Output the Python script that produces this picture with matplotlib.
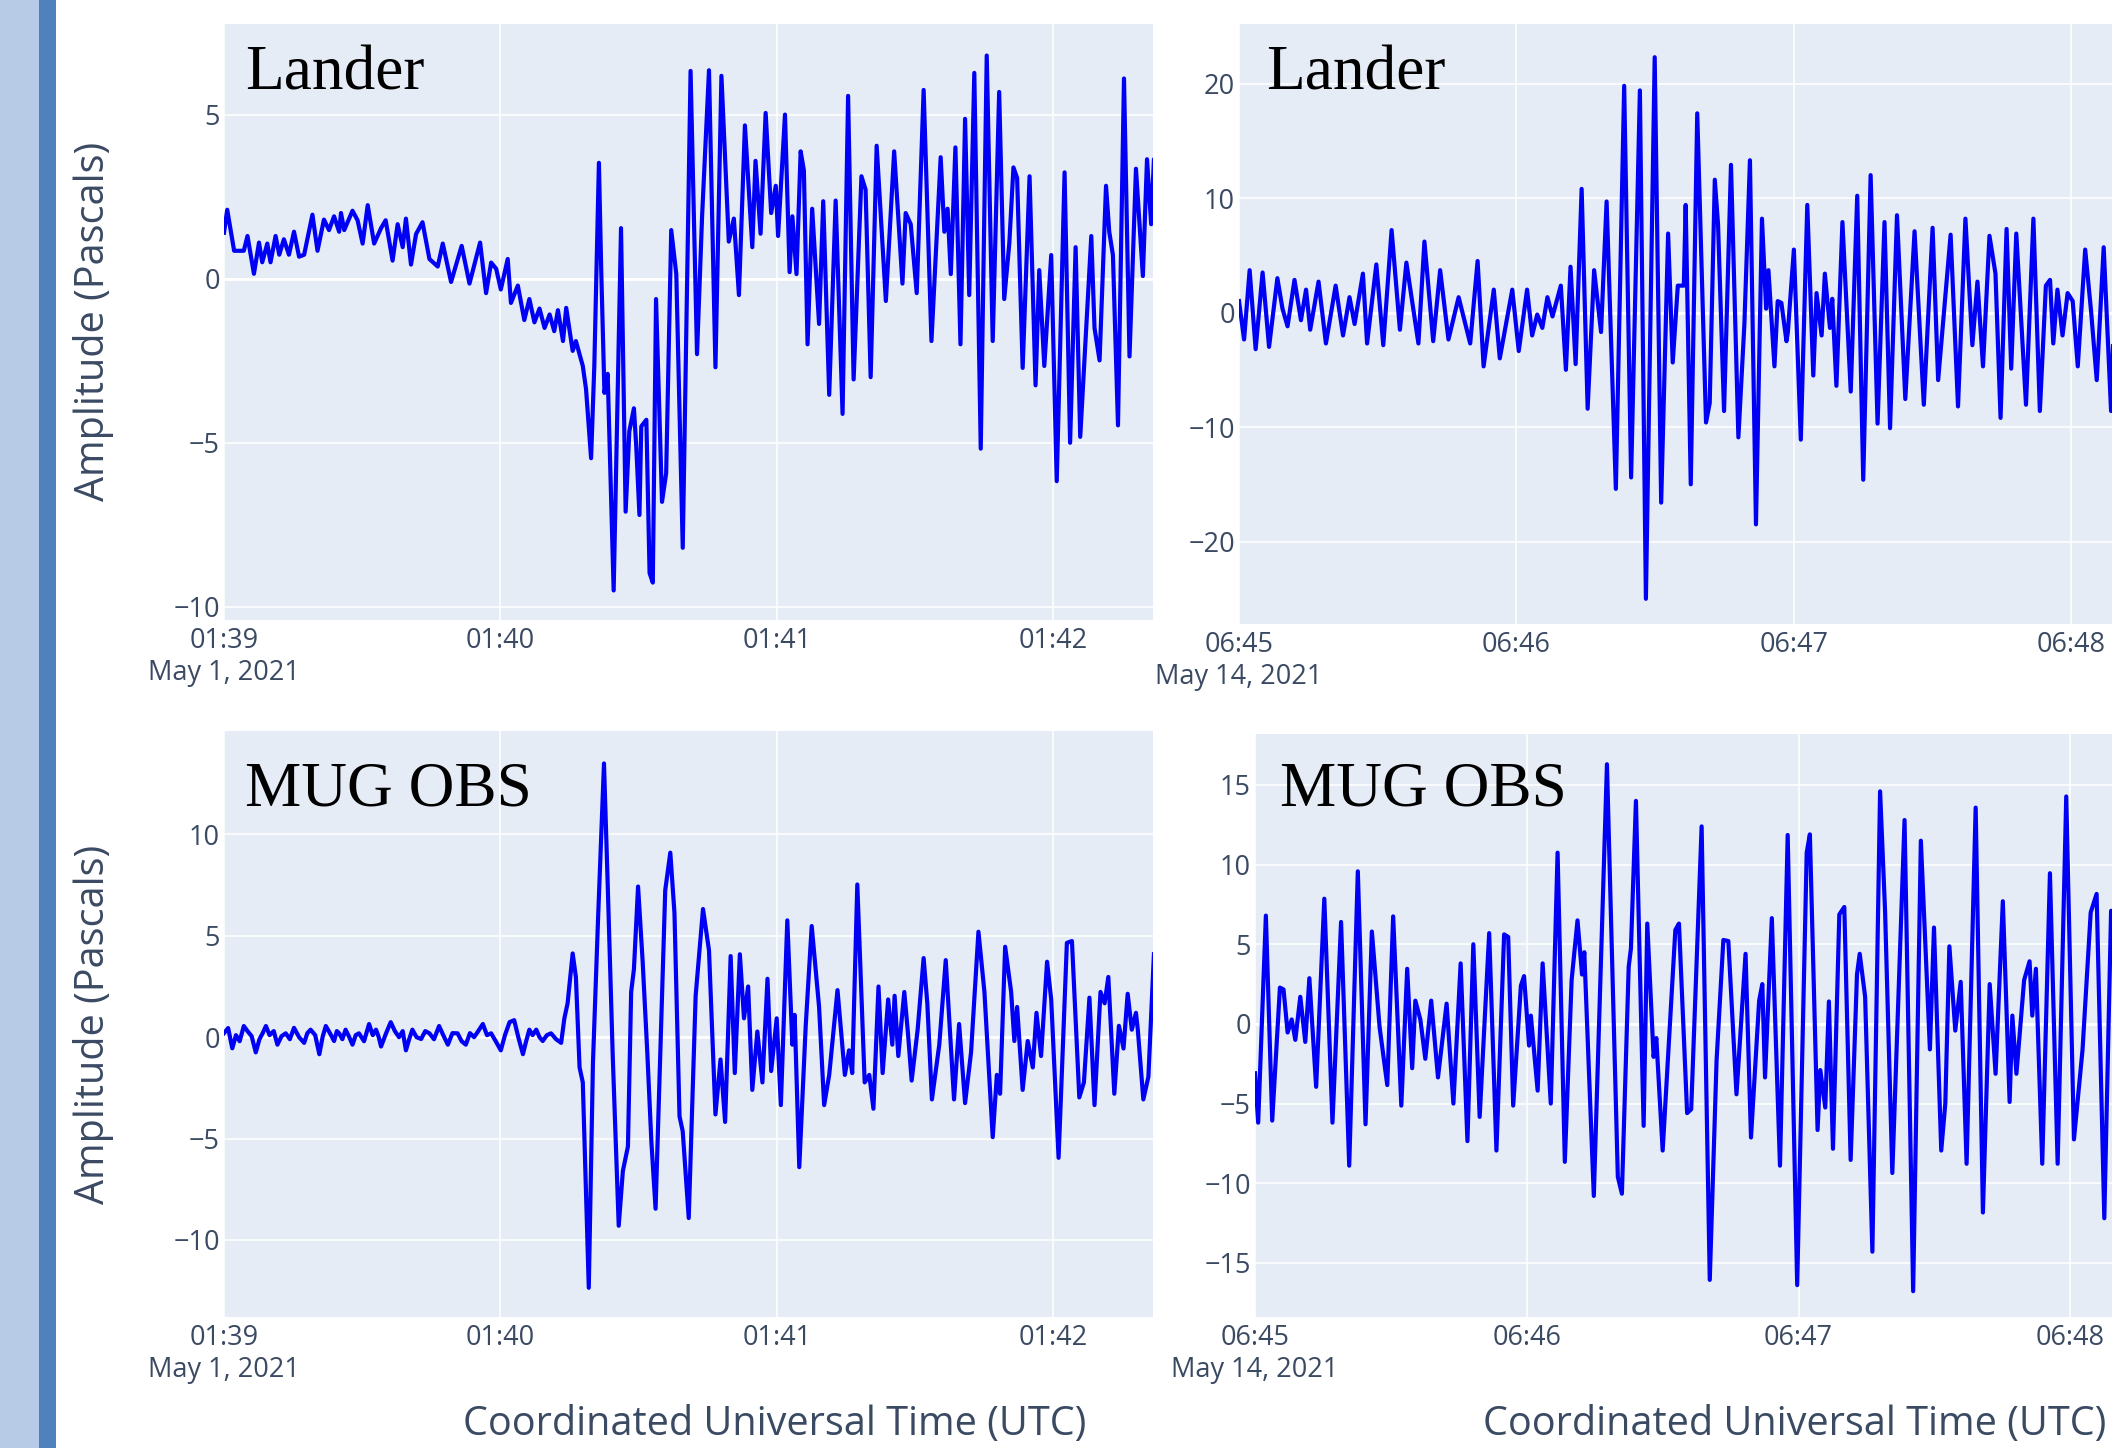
import numpy as np
import matplotlib
matplotlib.use("Agg")
from matplotlib import pyplot as plt
from matplotlib.patches import Rectangle

# ---- data (seconds from panel start, Pascals) ----

# Lander, May 1 2021, from 01:39:00
lander1_t = [0.0, 0.7, 2.2, 4.3, 5.1, 6.5, 7.6, 8.3, 9.4, 10.1, 11.2, 12.0, 13.0, 14.1, 15.2, 16.3,
             17.4, 19.2, 20.3, 21.7, 22.8, 23.9, 25.0, 25.4, 26.1, 27.9, 29.0, 30.1, 31.2, 32.6, 34.1,
             35.1, 36.6, 37.7, 38.8, 39.5, 40.6, 41.7, 43.1, 44.6, 46.4, 47.5, 49.3, 51.6, 53.3, 55.6,
             56.9, 58.0, 59.1, 60.1, 61.6, 62.3, 63.8, 65.2, 66.3, 67.4, 68.5, 69.6, 70.7, 71.7, 72.5,
             73.6, 74.3, 75.7, 76.4, 77.9, 78.6, 79.7, 80.4, 81.4, 81.9, 82.6, 83.3, 84.6, 86.2, 87.2,
             88.0, 89.0, 89.5, 90.2, 90.6, 91.7, 92.4, 93.1, 93.8, 95.1, 96.0, 97.1, 98.2, 99.6, 101.3,
             102.7, 103.8, 105.3, 106.7, 108.0, 109.6, 110.7, 111.8, 113.1, 114.7, 115.4, 116.5, 117.6,
             118.8, 119.8, 120.3, 121.8, 122.8, 123.4, 124.3, 125.2, 125.9, 126.7, 127.7, 129.2, 130.1,
             131.4, 132.8, 134.3, 135.5, 136.7, 138.4, 139.3, 140.4, 141.7, 143.7, 145.5, 147.3, 148.0,
             149.1, 150.4, 151.9, 153.6, 155.6, 156.4, 157.1, 157.8, 158.8, 159.9, 160.9, 161.8, 162.9,
             164.3, 165.6, 166.9, 168.3, 169.4, 170.5, 171.4, 172.2, 173.4, 174.9, 176.2, 177.0, 178.1,
             179.6, 180.8, 182.5, 183.7, 184.9, 185.9, 188.3, 189.0, 190.1, 191.5, 192.2, 193.0, 194.1,
             195.4, 196.6, 198.0, 199.5, 200.4, 201.3, 201.9, 202.4]
lander1_v = [1.4, 2.1, 0.85, 0.85, 1.3, 0.15, 1.1, 0.5, 1.07, 0.5, 1.3, 0.73, 1.2, 0.73, 1.43, 0.67,
             0.73, 1.95, 0.85, 1.8, 1.48, 1.9, 1.43, 2.0, 1.48, 2.07, 1.78, 1.07, 2.24, 1.07, 1.54,
             1.78, 0.55, 1.66, 0.96, 1.83, 0.43, 1.36, 1.72, 0.6, 0.37, 1.07, -0.1, 1.0, -0.15, 1.1,
             -0.44, 0.49, 0.3, -0.33, 0.6, -0.74, -0.21, -1.26, -0.62, -1.33, -0.91, -1.5, -1.09, -1.6, -0.96,
             -1.9, -0.89, -2.2, -1.9, -2.66, -3.36, -5.47, -2.66, 3.53, 0.26, -3.48, -2.9, -9.5, 1.54, -7.1,
             -4.65, -3.95, -5.1, -7.2, -4.5, -4.3, -8.97, -9.26, -0.62, -6.8, -5.93, 1.48, 0.14, -8.2, 6.33,
             -2.3, 1.9, 6.35, -2.7, 6.18, 1.13, 1.83, -0.5, 4.67, 0.96, 3.59, 1.37, 5.05,
             2.0, 2.83, 1.3, 5.0, 0.2, 1.9, 0.14, 3.88, 3.3, -2.0, 2.13, -1.38, 2.36,
             -3.54, 2.38, -4.12, 5.57, -3.07, 3.12, 2.71, -3.0, 4.05, -0.68, 3.88, -0.15, 2.0,
             1.66, -0.44, 5.75, -1.9, 3.7, 1.43, 2.13, 0.14, 4.0, -2.0, 4.87, -0.5, 6.27,
             -5.18, 6.8, -1.9, 5.69, -0.62, 1.07, 3.39, 3.07, -2.72, 3.12, -3.25, 0.26, -2.66,
             0.72, -6.17, 3.24, -5.0, 0.96, -4.82, 1.3, -1.5, -2.49, 2.83, 1.43, 0.72, -4.47,
             6.1, -2.37, 3.35, 0.08, 3.64, 1.66, 3.64, 2.0]

# Lander, May 14 2021, from 06:45:00
lander2_t = [0.0, 1.1, 2.3, 3.6, 5.1, 6.5, 8.3, 9.4, 10.5, 12.0, 13.4, 14.5, 15.4, 17.2, 18.8, 20.9,
             22.5, 23.9, 25.0, 26.8, 27.7, 29.7, 31.2, 33.0, 34.8, 36.2, 38.8, 40.1, 42.0, 43.5, 45.3,
             47.5, 50.0, 51.6, 52.9, 55.1, 56.4, 59.1, 60.5, 62.3, 63.4, 64.5, 65.6, 66.7, 67.8, 69.6,
             70.7, 71.7, 72.8, 74.1, 75.4, 76.8, 78.3, 79.5, 81.5, 83.3, 84.8, 86.7, 88.0, 89.9, 91.3,
             92.8, 93.8, 94.9, 96.2, 96.6, 97.7, 99.1, 101.0, 101.8, 102.9, 103.6, 104.9, 106.4, 108.0,
             109.3, 110.5, 111.8, 113.1, 114.0, 114.5, 115.8, 116.5, 117.3, 118.4, 118.7, 120.0, 121.5,
             122.9, 124.2, 124.9, 126.0, 126.7, 127.8, 128.3, 129.2, 130.5, 132.3, 133.7, 135.0, 136.6,
             138.1, 139.6, 140.8, 142.3, 144.1, 146.1, 148.1, 150.0, 151.2, 152.4, 153.9, 155.5, 157.1,
             158.6, 159.7, 160.9, 162.3, 163.6, 164.7, 166.0, 167.0, 168.1, 170.2, 171.8, 173.2, 174.5,
             175.4, 176.1, 177.0, 178.1, 179.2, 180.3, 181.4, 183.0, 184.3, 185.5, 187.0, 188.6, 189.6]
lander2_v = [1.0, -2.35, 3.7, -3.2, 3.5, -3.0, 3.0, 0.34, -1.2, 2.85, -0.67, 2.0, -1.5, 2.7, -2.7, 2.35,
             -2.0, 1.34, -1.0, 3.4, -2.7, 4.2, -2.85, 7.2, -1.5, 4.36, -2.7, 6.2, -2.5, 3.7, -2.35,
             1.34, -2.7, 4.5, -4.7, 2.0, -4.0, 2.0, -3.36, 2.0, -2.0, -0.17, -1.34, 1.34, -0.34, 2.35,
             -5.0, 4.0, -4.5, 10.8, -8.4, 3.7, -1.7, 9.7, -15.4, 19.8, -14.4, 19.4, -25.0, 22.3, -16.6,
             6.9, -4.36, 2.35, 2.35, 9.4, -15.0, 17.4, -9.6, -7.9, 11.6, 7.7, -8.6, 12.9, -10.9,
             -1.0, 13.3, -18.5, 8.2, 0.34, 3.7, -4.7, 1.0, 0.84, -2.5, -1.7, 5.5, -11.1,
             9.4, -5.5, 1.7, -2.0, 3.4, -1.34, 1.2, -6.4, 7.9, -6.9, 10.2, -14.6, 12.0,
             -9.7, 7.9, -10.1, 8.5, -7.55, 7.1, -8.05, 7.4, -5.9, -0.3, 6.8, -8.2, 8.2,
             -2.85, 2.7, -4.7, 6.7, 3.4, -9.2, 7.3, -4.9, 6.9, -8.05, 8.2, -8.6, 2.35,
             2.85, -2.7, 2.0, -2.0, 1.7, 1.0, -4.7, 5.5, 0.0, -5.9, 5.7, -8.6, 5.0]

# MUG OBS, May 1 2021, from 01:39:00
mug1_t = [0.0, 0.9, 1.8, 2.6, 3.4, 4.3, 5.1, 6.0, 6.9, 7.7, 8.4, 9.1, 9.9, 10.8, 11.6, 12.5,
          13.4, 14.3, 15.2, 16.3, 17.4, 18.1, 18.8, 19.8, 20.7, 21.4, 22.1, 23.0, 23.9, 24.5, 25.0,
          25.7, 26.4, 27.2, 27.9, 28.6, 29.3, 30.4, 31.5, 32.3, 33.0, 33.6, 34.1, 35.2, 36.2, 37.1,
          38.0, 38.8, 39.5, 40.2, 40.9, 41.8, 42.8, 43.7, 44.6, 45.6, 46.7, 47.6, 48.6, 49.6, 50.7,
          51.6, 52.5, 53.4, 54.3, 55.2, 56.2, 57.1, 58.0, 59.0, 60.1, 61.0, 62.0, 63.0, 63.9, 64.9,
          65.6, 66.3, 67.0, 67.8, 68.5, 69.2, 70.1, 71.0, 72.1, 73.2,
          73.9, 74.6, 75.7, 76.4,
          77.2, 77.9, 79.2, 80.1, 81.2, 82.5, 83.3, 84.4, 85.7, 86.6, 87.7, 88.4, 89.0, 89.9, 90.9,
          91.9, 92.8, 93.7, 94.6, 95.8, 96.9, 97.8, 98.9, 99.6, 100.9, 102.4, 104.0, 105.3, 106.7,
          107.8, 108.8, 110.0, 110.9, 112.0, 112.9, 113.8, 114.7, 115.8, 116.9, 118.0, 118.8, 120.0,
          120.9, 122.3, 123.4, 123.9, 124.9, 126.3, 127.6, 129.2, 130.3, 131.4, 133.2, 134.8, 135.7,
          136.4, 137.5, 139.1, 140.1, 141.0, 142.1, 143.0, 144.2, 145.1, 145.6, 146.4, 147.7, 148.5,
          149.3, 150.6, 151.9, 152.7, 153.7, 155.3, 156.7, 158.5, 159.6, 160.9, 162.2, 163.8, 165.1,
          166.9, 167.8, 168.5, 169.6, 170.9, 171.6, 172.2, 173.4, 174.5, 175.6, 176.4, 177.4, 178.7,
          179.6, 181.2, 183.0, 184.1, 185.7, 186.7, 187.9, 189.0, 190.3, 191.2, 192.0, 193.3, 194.3,
          195.3, 196.2, 197.1, 198.0, 198.4, 199.6, 200.7, 201.9]
mug1_v = [0.2, 0.45, -0.55, 0.1, -0.2, 0.55, 0.3, 0.05, -0.75, -0.1, 0.2, 0.55, 0.1, 0.3, -0.37, 0.05,
          0.19, -0.1, 0.46, 0.0, -0.28, 0.2, 0.37, 0.1, -0.84, 0.0, 0.55, 0.2, -0.19, 0.3, 0.19,
          -0.1, 0.37, 0.0, -0.37, 0.1, 0.19, -0.2, 0.65, 0.1, 0.37, 0.0, -0.46, 0.2, 0.74, 0.3,
          0.0, 0.3, -0.65, -0.1, 0.37, 0.0, -0.09, 0.3, 0.19, -0.1, 0.55, 0.1, -0.37, 0.2, 0.19,
          -0.2, -0.37, 0.2, 0.0, 0.3, 0.65, 0.1, 0.19, -0.2, -0.65, 0.1, 0.74, 0.84, 0.0, -0.84,
          -0.2, 0.37, 0.1, 0.37, 0.0, -0.19, 0.1, 0.19, -0.1, -0.28,
          0.93, 1.67, 4.13, 2.97,
          -1.49, -2.23, -12.36, -1.3, 5.76, 13.5, 7.6, -0.93, -9.3, -6.6, -5.39, 2.23, 3.35, 7.43, 3.72,
          -0.74, -5.2, -8.46, -1.67, 7.25, 9.1, 6.13, -3.9, -4.65, -8.92, 2.04, 6.32, 4.28, -3.81,
          -1.1, -4.18, 4.0, -1.77, 4.09, 0.93, 2.5, -2.6, 0.28, -2.23, 2.88, -1.67, 0.93,
          -3.35, 5.76, -0.37, 1.1, -6.41, 0.56, 5.48, 1.49, -3.35, -1.86, 2.32, -1.86, -0.65,
          -1.77, 7.53, -2.23, -1.86, -3.53, 2.5, -1.77, 1.86, -0.37, 2.04, -0.93, 2.23, 0.19,
          -2.14, 0.37, 3.9, 1.67, -3.07, -0.37, 3.8, -3.07, 0.65, -3.25, -0.74, 5.2, 2.23,
          -4.93, -1.86, -2.79, 4.46, 2.23, -0.19, 1.49, -2.6, -0.19, -1.49, 1.2, -0.93, 3.72,
          1.86, -5.95, 4.65, 4.74, -2.97, -2.23, 1.95, -3.35, 2.23, 1.67, 2.97, -2.79, 0.56,
          -0.56, 2.14, 0.37, 1.2, 0.37, -3.07, -1.95, 4.09]

# MUG OBS, May 14 2021, from 06:45:00
mug2_t = [0.0, 0.7, 2.4, 3.8, 5.5, 6.3, 7.2, 8.1, 8.9, 10.0, 11.1, 12.0, 13.5, 15.3, 17.1, 19.0,
          20.8, 22.7, 24.4, 25.8, 27.5, 29.2, 30.5, 32.3, 33.6, 34.7, 35.4, 36.5, 37.6, 38.9, 40.4,
          42.3, 43.8, 45.4, 46.9, 48.2, 49.6, 51.7, 53.3, 55.0, 55.9, 57.0, 58.7, 59.4, 60.5, 60.9,
          62.4, 63.5, 65.3, 66.8, 68.4, 69.9, 71.2, 72.2, 72.7, 74.8, 77.7, 80.1, 81.0, 82.5, 83.0,
          84.1, 85.8, 86.6, 88.0, 88.6, 90.0, 92.8, 93.6, 95.4, 96.3, 98.6, 100.4, 101.9, 103.4,
          104.5, 106.3, 108.3, 109.5, 110.6, 111.3, 112.0, 112.6, 114.1, 115.9, 117.6, 119.7, 121.8,
          122.5, 124.2, 124.8, 125.9, 126.7, 127.6, 129.0, 130.1, 131.5, 132.9, 133.5, 134.7, 136.3,
          138.0, 139.1, 140.7, 143.4, 145.3, 147.0, 149.0, 149.9, 151.5, 152.4, 153.3, 154.6, 155.8,
          157.1, 159.1, 160.7, 162.2, 163.5, 165.1, 166.6, 167.2, 168.1, 169.8, 171.0, 171.6, 172.4,
          173.8, 175.5, 177.2, 179.1, 180.8, 182.7, 184.5, 185.8, 187.5, 189.0, 190.0]
mug2_v = [-3.1, -6.2, 6.8, -6.07, 2.28, 2.16, -0.54, 0.28, -1.0, 1.7, -1.13, 2.87, -3.95, 7.86, -6.2, 6.4,
          -8.9, 9.58, -6.3, 5.8, -0.19, -3.84, 6.75, -5.13, 3.46, -2.78, 1.46, 0.28, -2.19, 1.46, -3.36,
          1.27, -5.0, 3.8, -7.36, 5.0, -5.84, 5.7, -7.95, 5.62, 5.46, -5.13, 2.4, 3.0, -1.36, 0.52,
          -4.19, 3.8, -5.0, 10.75, -8.66, 2.75, 6.5, 3.1, 4.5, -10.8, 16.3, -9.6, -10.66, 3.58, 4.75,
          14.0, -6.4, 6.3, -2.07, -0.89, -7.95, 5.9, 6.3, -5.6, -5.36, 12.4, -16.07, -2.3, 5.27,
          5.2, -4.42, 4.4, -7.13, -1.84, 1.46, 2.5, -3.36, 6.64, -8.9, 11.86, -16.4, 10.75,
          11.9, -6.66, -2.9, -5.25, 1.41, -7.84, 6.87, 7.34, -8.54, 3.1, 4.4, 1.7, -14.3,
          14.6, 7.1, -9.36, 12.8, -16.78, 11.5, -1.6, 6.05, -7.95, -5.0, 4.87, -0.42, 2.64,
          -8.78, 13.58, -11.84, 2.5, -3.13, 7.7, -4.9, 0.52, -3.13, 2.75, 3.93, 0.52, 3.46,
          -8.78, 9.46, -8.78, 14.28, -7.25, -1.6, 7.0, 8.16, -12.2, 7.1, 4.0]

ticks_may1 = ["01:39\nMay 1, 2021", "01:40", "01:41", "01:42"]
ticks_may14 = ["06:45\nMay 14, 2021", "06:46", "06:47", "06:48"]

W, H = 2112, 1448
bg = "#E5ECF6"
txt = "#3b4a63"

fig = plt.figure(figsize=(W / 100, H / 100), dpi=100)
fig.patch.set_facecolor("white")

# slide stripe on the left
fig.patches.append(Rectangle((0, 0), 39 / W, 1, transform=fig.transFigure,
                             facecolor="#B7CAE6", edgecolor="none", zorder=0))
fig.patches.append(Rectangle((39 / W, 0), 17 / W, 1, transform=fig.transFigure,
                             facecolor="#4F81BD", edgecolor="none", zorder=0))


def px_axes(x0, y0, x1, y1):
    return fig.add_axes([x0 / W, 1 - y1 / H, (x1 - x0) / W, (y1 - y0) / H])


def panel(ax, t, v, xmax, ylim, yticks, xlabels):
    ax.set_facecolor(bg)
    ax.plot(t, v, color="#0000F5", linewidth=3.0, zorder=3, solid_joinstyle="round")
    ax.set_xlim(0, xmax)
    ax.set_ylim(ylim)
    ax.set_xticks([0, 60, 120, 180])
    ax.set_xticklabels(xlabels, fontsize=19.5, color=txt, linespacing=1.2)
    ax.set_yticks(yticks)
    ax.set_yticklabels([str(y).replace("-", "\u2212") for y in yticks], fontsize=19.5, color=txt)
    for s in ax.spines.values():
        s.set_visible(False)
    ax.tick_params(axis="x", length=0, pad=5)
    ax.tick_params(axis="y", length=0, pad=3)
    ax.grid(color="white", linewidth=1.1)
    ax.set_axisbelow(True)
    ax.axhline(0, color="white", linewidth=2.0, zorder=2)


plt.rcParams["font.family"] = ["Open Sans", "DejaVu Sans"]

ax1 = px_axes(224, 24, 1153, 620)
panel(ax1, lander1_t, lander1_v, 201.7, (-10.4, 7.76), [-10, -5, 0, 5], ticks_may1)

ax2 = px_axes(1239, 24, 2112, 624)
panel(ax2, lander2_t, lander2_v, 188.8, (-27.2, 25.2), [-20, -10, 0, 10, 20], ticks_may14)

ax3 = px_axes(224, 731, 1153, 1317)
panel(ax3, mug1_t, mug1_v, 201.7, (-13.8, 15.1), [-10, -5, 0, 5, 10], ticks_may1)

ax4 = px_axes(1255, 734, 2112, 1317)
panel(ax4, mug2_t, mug2_v, 189.2, (-18.4, 18.2), [-15, -10, -5, 0, 5, 10, 15], ticks_may14)

# station labels
serif = ["Liberation Serif", "DejaVu Serif"]
fig.text(245 / W, 1 - 89 / H, "Lander", family=serif, fontsize=45.5, va="baseline")
fig.text(1266 / W, 1 - 89 / H, "Lander", family=serif, fontsize=45.5, va="baseline")
fig.text(245 / W, 1 - 805 / H, "MUG OBS", family=serif, fontsize=45.5, va="baseline")
fig.text(1280 / W, 1 - 805 / H, "MUG OBS", family=serif, fontsize=45.5, va="baseline")

# axis titles
fig.text(94 / W, 1 - 321 / H, "Amplitude (Pascals)", rotation=90, fontsize=28.5,
         color=txt, ha="center", va="center")
fig.text(94 / W, 1 - 1024 / H, "Amplitude (Pascals)", rotation=90, fontsize=28.5,
         color=txt, ha="center", va="center")
fig.text(775 / W, 1 - 1425 / H, "Coordinated Universal Time (UTC)", fontsize=28.5,
         color=txt, ha="center", va="center")
fig.text(1795 / W, 1 - 1425 / H, "Coordinated Universal Time (UTC)", fontsize=28.5,
         color=txt, ha="center", va="center")

plt.savefig("out.png", dpi=100, facecolor="white")
